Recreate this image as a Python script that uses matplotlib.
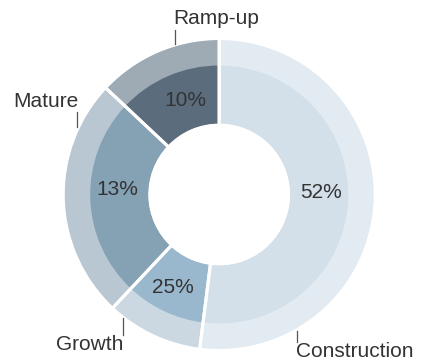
import numpy as np
import matplotlib
matplotlib.use("Agg")
import matplotlib.pyplot as plt

# data (wedge sizes and the printed labels differ in the original)
categories = ["Construction", "Growth", "Mature", "Ramp-up"]
shares = [52, 10, 25, 13]
pct_labels = ["52%", "25%", "13%", "10%"]

# styling / layout
outer_colors = ["#e3ebf2", "#cbd8e2", "#b9c7d3", "#9eabb5"]
inner_colors = ["#d3e0e9", "#9ab8cd", "#85a1b4", "#5b6d7d"]
leader_angles = [299.5, 232.0, 154.6, 106.3]   # where each name label hangs off the ring
leader_dirs = [-1, -1, 1, 1]                    # -1 = line goes down, 1 = up
leader_len = [11, 17, 15, 14]
pct_nudge = [6.0, -2.0, -6.0, -4.0]             # degrees, small shifts of the % labels

W, H = 428, 362
CX, CY = 219.2, H - 194.5
R_OUT, R_MID, R_HOLE = 155, 129, 71
TXT = "#333333"

plt.rcParams["font.family"] = ["Liberation Sans", "DejaVu Sans"]

fig = plt.figure(figsize=(W / 100, H / 100), dpi=100)
ax = fig.add_axes([0, 0, 1, 1])

common = dict(startangle=90, counterclock=False, center=(CX, CY))
ax.pie(shares, radius=R_OUT, colors=outer_colors,
       wedgeprops=dict(width=R_OUT - R_HOLE, linewidth=0), **common)
ax.pie(shares, radius=R_MID, colors=inner_colors,
       wedgeprops=dict(width=R_MID - R_HOLE, linewidth=0), **common)
# white separators between the wedges
ax.pie(shares, radius=R_OUT + 1, colors=["none"] * len(shares),
       wedgeprops=dict(width=R_OUT - R_HOLE + 3, edgecolor="white", linewidth=2.2), **common)

# percentage labels at wedge middles
bounds = 90 - 360 * np.concatenate([[0], np.cumsum(shares)]) / np.sum(shares)
mids = (bounds[:-1] + bounds[1:]) / 2
for lab, a, nudge in zip(pct_labels, mids, pct_nudge):
    t = np.deg2rad(a + nudge)
    ax.text(CX + 102 * np.cos(t), CY + 102 * np.sin(t), lab, ha="center",
            va="center_baseline", fontsize=15, color=TXT)

# category names with short vertical leader lines
for name, a, d, ln in zip(categories, leader_angles, leader_dirs, leader_len):
    t = np.deg2rad(a)
    x0 = CX + 157 * np.cos(t)
    y0 = CY + 157 * np.sin(t)
    y1 = y0 + d * ln
    ax.plot([x0, x0], [y0, y1], color="#555555", linewidth=0.9)
    ha = "left" if np.cos(t) > 0 or 100 < a < 120 else "right"
    if d > 0:
        ax.text(x0 - 1.5 if ha == "left" else x0 + 1.5, y1 + 1.5, name, ha=ha, va="bottom",
                fontsize=15, color=TXT)
    else:
        ax.text(x0 - 1 if ha == "left" else x0 + 0.5, y1 + 0.5, name, ha=ha, va="top",
                fontsize=15, color=TXT)

ax.set_xlim(0, W)
ax.set_ylim(0, H)
ax.set_aspect("auto")
ax.axis("off")

fig.savefig("out.png", dpi=100)
